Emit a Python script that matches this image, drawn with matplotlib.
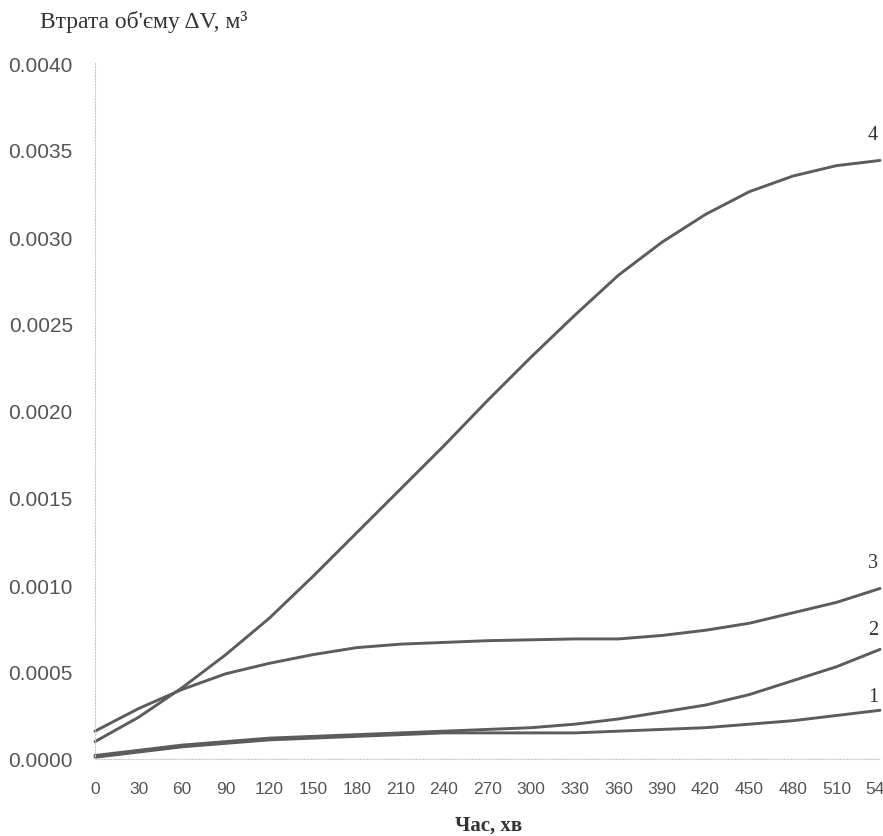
import numpy as np
import matplotlib
matplotlib.use("Agg")
import matplotlib.pyplot as plt
from matplotlib.ticker import FormatStrFormatter, MultipleLocator

# time, min
t = [0, 30, 60, 90, 120, 150, 180, 210, 240, 270, 300, 330, 360, 390, 420, 450, 480, 510, 540]

# volume loss, m^3 (curves 1..4)
dv1 = [0.00001, 0.00004, 0.00007, 0.00009, 0.00011, 0.00012, 0.00013, 0.00014, 0.00015, 0.00015,
       0.00015, 0.00015, 0.00016, 0.00017, 0.00018, 0.00020, 0.00022, 0.00025, 0.00028]
dv2 = [0.00002, 0.00005, 0.00008, 0.00010, 0.00012, 0.00013, 0.00014, 0.00015, 0.00016, 0.00017,
       0.00018, 0.00020, 0.00023, 0.00027, 0.00031, 0.00037, 0.00045, 0.00053, 0.00063]
dv3 = [0.00016, 0.00029, 0.00040, 0.00049, 0.00055, 0.00060, 0.00064, 0.00066, 0.00067, 0.00068,
       0.000685, 0.00069, 0.00069, 0.00071, 0.00074, 0.00078, 0.00084, 0.00090, 0.00098]
dv4 = [0.00010, 0.00024, 0.00041, 0.00060, 0.00081, 0.00105, 0.00130, 0.00155, 0.00180, 0.00206,
       0.00231, 0.00255, 0.00278, 0.00297, 0.00313, 0.00326, 0.00335, 0.00341, 0.00344]

curve_names = ["1", "2", "3", "4"]

line_col = "#5c5c5c"
tick_col = "#555555"

fig = plt.figure(figsize=(8.83, 8.37), dpi=100)
ax = fig.add_axes([95/883, 77/837, 785/883, 696/837])

series = [dv1, dv2, dv3, dv4]
label_dy = [14, 20, 26, 26]
for name, dv, dy in zip(curve_names, series, label_dy):
    ax.plot(t, dv, color=line_col, lw=2.1, clip_on=False,
            solid_capstyle="round", solid_joinstyle="round")
    ax.annotate(name, xy=(t[-1], dv[-1]), xytext=(-7, dy), textcoords="offset pixels",
                ha="center", va="center", fontsize=14.5, family="Liberation Serif", color="#333333")

ax.set_xlim(0, 540)
ax.set_ylim(0, 0.004)
ax.xaxis.set_major_locator(MultipleLocator(30))
ax.yaxis.set_major_locator(MultipleLocator(0.0005))
ax.yaxis.set_major_formatter(FormatStrFormatter("%.4f"))

ax.tick_params(axis="y", length=0, pad=16, labelsize=15, labelcolor=tick_col)
ax.tick_params(axis="x", length=0, pad=16, labelsize=12.5, labelcolor=tick_col)
for lab in ax.get_xticklabels() + ax.get_yticklabels():
    lab.set_family("Liberation Sans")

for s in ["top", "right"]:
    ax.spines[s].set_visible(False)
for s in ["left", "bottom"]:
    ax.spines[s].set_color("#c8c8c8")
    ax.spines[s].set_linestyle(":")
    ax.spines[s].set_linewidth(0.8)

fig.text(40/883, 1 - 22/837, "Втрата об'єму ΔV, м³", family="Liberation Serif",
         fontsize=17, va="center", ha="left", color="#333333")
fig.text(489/883, 1 - 826/837, "Час, хв", family="Liberation Serif", fontweight="bold",
         fontsize=15, va="center", ha="center", color="#333333")

fig.savefig("out.png", dpi=100)
